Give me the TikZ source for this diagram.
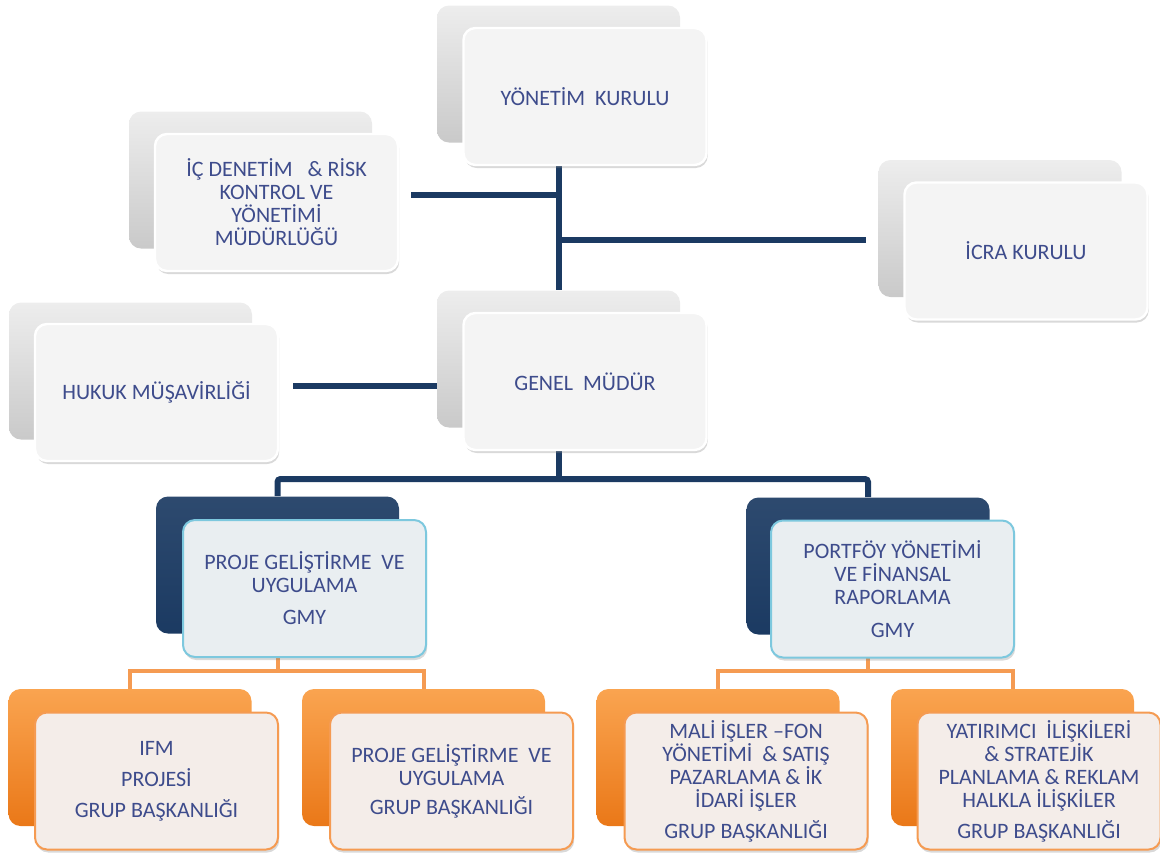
\documentclass[tikz,border=0pt]{standalone}
\usepackage{fontspec}
\setmainfont{Carlito}
\usepackage{tikz}
\usetikzlibrary{shadows, positioning, calc}
\definecolor{orgnavy}{RGB}{27, 58, 98}
\definecolor{orgtext}{RGB}{62, 76, 140}
\definecolor{orgcyan}{RGB}{125, 200, 222}
\definecolor{orglight}{RGB}{250, 164, 80}
\definecolor{orgorange}{RGB}{245, 142, 42}
\definecolor{orgdark}{RGB}{234, 120, 24}
\definecolor{orgline}{RGB}{245, 155, 82}
\definecolor{orgcream}{RGB}{244, 237, 233}

\begin{document}
\begin{tikzpicture}[x=0.5pt, y=-0.5pt,
  boxback/.style={rounded corners=6pt, minimum width=121.5pt, minimum height=68.5pt, inner sep=0pt},
  grayback/.style={boxback, top color=gray!14, bottom color=gray!42},
  navyback/.style={boxback, top color=orgnavy!92!white, bottom color=orgnavy},
  orangeback/.style={boxback, top color=orglight, middle color=orgorange, bottom color=orgdark},
  boxfront/.style={rounded corners=6pt, minimum width=121.5pt, minimum height=68.5pt, inner sep=2pt,
    align=center, text=orgtext, font=\fontsize{11}{11.5}\selectfont,
    drop shadow={shadow xshift=0.6pt, shadow yshift=-1.5pt, opacity=.3}},
  grayfront/.style={boxfront, fill=gray!9, draw=white, line width=1.2pt},
  navyfront/.style={boxfront, fill={rgb,255:red,233;green,238;blue,241}, draw=orgcyan, line width=1pt},
  orangefront/.style={boxfront, fill=orgcream, draw=orgline, line width=1pt},
  navyline/.style={line width=3pt, orgnavy},
  orangeline/.style={line width=2pt, orgline},
]
  \useasboundingbox (0,0) rectangle (1160,858);

  \node[grayback] (ydk-b) at (558.5, 74) {};
  \node[grayback] (ic-b) at (250.5, 180) {};
  \node[grayback] (icra-b) at (1000, 228.5) {};
  \node[grayback] (gm-b) at (558.5, 359) {};
  \node[grayback] (hk-b) at (130.5, 371) {};
  \node[navyback] (pg-b) at (277.5, 565) {};
  \node[navyback] (pf-b) at (868, 566) {};
  \node[orangeback] (ifm-b) at (130, 757.5) {};
  \node[orangeback] (pgb-b) at (423.5, 757.5) {};
  \node[orangeback] (mali-b) at (718, 757.5) {};
  \node[orangeback] (yat-b) at (1012.5, 757.5) {};

  \coordinate (bus) at (558.5, 479);
  \coordinate (obus) at (0, 671);
  \draw[navyline] (ydk-b.south) -- (gm-b.north);
  \draw[navyline] (gm-b.south) -- (bus);
  \draw[navyline, rounded corners=1.5pt] (pg-b.north) -- (pg-b.north |- bus) -- (pf-b.north |- bus) -- (pf-b.north);
  \draw[orangeline] (pg-b.south) -- (pg-b.south |- obus);
  \draw[orangeline] (ifm-b.north) -- (ifm-b.north |- obus) -- (pgb-b.north |- obus) -- (pgb-b.north);
  \draw[orangeline] (pf-b.south) -- (pf-b.south |- obus);
  \draw[orangeline] (mali-b.north) -- (mali-b.north |- obus) -- (yat-b.north |- obus) -- (yat-b.north);

  \node[grayfront] (ydk) at ([shift={(26.5,22.5)}]ydk-b.center) {YÖNETİM~ KURULU};
  \node[grayfront] (ic) at ([shift={(26,22.5)}]ic-b.center) {İÇ DENETİM~~ \& RİSK\\KONTROL VE\\YÖNETİMİ\\MÜDÜRLÜĞÜ};
  \node[grayfront] (icra) at ([shift={(26,22.5)}]icra-b.center) {İCRA KURULU};
  \node[grayfront] (gm) at ([shift={(26.5,22.5)}]gm-b.center) {GENEL~ MÜDÜR};
  \node[grayfront] (hk) at ([shift={(26,21.5)}]hk-b.center) {HUKUK MÜŞAVİRLİĞİ};
  \node[navyfront] (pg) at ([shift={(27,23.5)}]pg-b.center) {PROJE GELİŞTİRME~ VE\\UYGULAMA\\[4.5pt]GMY};
  \node[navyfront] (pf) at ([shift={(24.5,23)}]pf-b.center) {PORTFÖY YÖNETİMİ\\VE FİNANSAL\\RAPORLAMA\\[5pt]GMY};
  \node[orangefront] (ifm) at ([shift={(26.5,23.5)}]ifm-b.center) {IFM\\[4pt]PROJESİ\\[4pt]GRUP BAŞKANLIĞI};
  \node[orangefront] (pgb) at ([shift={(28,23.5)}]pgb-b.center) {PROJE GELİŞTİRME~ VE\\UYGULAMA\\[3pt]GRUP BAŞKANLIĞI};
  \node[orangefront] (mali) at ([shift={(28,23.5)}]mali-b.center) {MALİ İŞLER –FON\\YÖNETİMİ~ \& SATIŞ\\PAZARLAMA \& İK\\İDARİ İŞLER\\[4pt]GRUP BAŞKANLIĞI};
  \node[orangefront] (yat) at ([shift={(26.5,23.5)}]yat-b.center) {YATIRIMCI~ İLİŞKİLERİ\\\& STRATEJİK\\PLANLAMA \& REKLAM\\HALKLA İLİŞKİLER\\[4pt]GRUP BAŞKANLIĞI};

  \coordinate (ic-c) at ([xshift=6pt, yshift=3.75pt]ic.east);
  \coordinate (icra-c) at ([xshift=-6pt, yshift=-5.75pt]icra-b.west);
  \coordinate (hk-c) at ([xshift=7pt, yshift=3.25pt]hk.east);
  \draw[navyline] (ic-c) -- (ic-c -| ydk-b.south);
  \draw[navyline] (icra-c -| ydk-b.south) -- (icra-c);
  \draw[navyline] (hk-c) -- (hk-c -| gm-b.west);
\end{tikzpicture}
\end{document}
